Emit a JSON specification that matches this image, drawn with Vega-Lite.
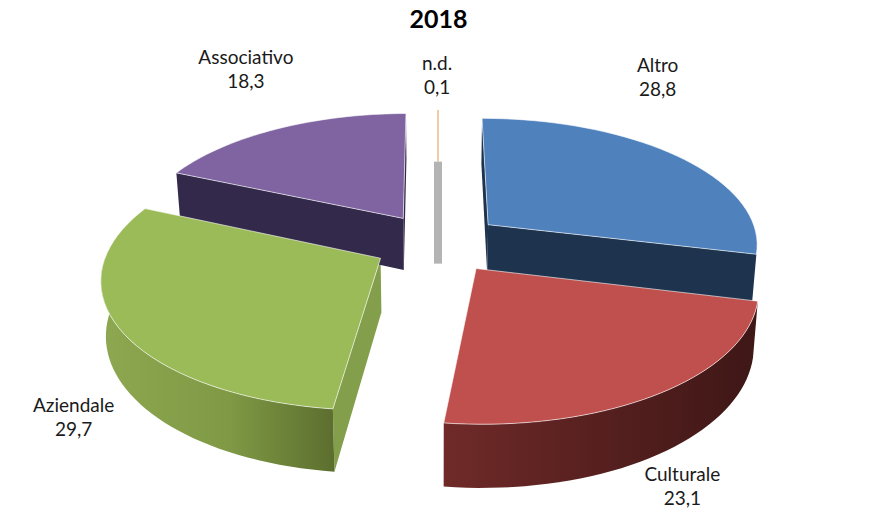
{
"$schema":"https://vega.github.io/schema/vega-lite/v6.json",
"width":877,"height":527,"padding":0,"autosize":"none","background":"white",
"view":{"stroke":null},
"title":{"text":"2018","anchor":"middle","frame":"group","offset":-33,"font":"Lato","fontSize":25,"fontWeight":"bold","color":"#000000"},
"data":{"values":[
{"slice":"Altro","value":28.8},
{"slice":"Culturale","value":23.1},
{"slice":"Aziendale","value":29.7},
{"slice":"Associativo","value":18.3},
{"slice":"n.d.","value":0.1}
]},
"transform":[
{"stack":"value","groupby":[],"as":["v0","v1"]},
{"calculate":"datum.v0/100*2*PI","as":"t0"},
{"calculate":"datum.v1/100*2*PI","as":"t1"},
{"calculate":"(datum.t0+datum.t1)/2","as":"mid"},
{"calculate":"0.24*sin(datum.mid)","as":"ex"},
{"calculate":"0.24*cos(datum.mid)","as":"ey"},
{"calculate":"datum.slice+'\\n'+replace(format(datum.value,'.1f'),'.',',')","as":"lab"}
],
"encoding":{
"x":{"field":"px","type":"quantitative","scale":{"domain":[0,877],"range":[0,877],"nice":false,"zero":false},"axis":null,"title":null},
"y":{"field":"py","type":"quantitative","scale":{"domain":[0,527],"range":[0,527],"nice":false,"zero":false},"axis":null,"title":null}
},
"layer":[
{"transform":[
{"filter":"datum.slice==='n.d.'"},
{"calculate":"[1,0.47]","as":"rs"},{"flatten":["rs"],"as":["r"]},
{"calculate":"datum.ey+datum.r","as":"v"},{"calculate":"1/(1+0.14*datum.v)","as":"s"},
{"calculate":"438","as":"px"},{"calculate":"243-126*datum.v*datum.s","as":"py"}],
"mark":{"type":"line","stroke":"#E39A4F","strokeWidth":1},"encoding":{"order":{"field":"r","sort":"descending"}}},
{"transform":[
{"filter":"datum.slice==='n.d.'"},
{"calculate":"[0.47,-0.4]","as":"rs"},{"flatten":["rs"],"as":["r"]},
{"calculate":"datum.ey+datum.r","as":"v"},{"calculate":"1/(1+0.14*datum.v)","as":"s"},
{"calculate":"438","as":"px"},{"calculate":"243-126*datum.v*datum.s","as":"py"}],
"mark":{"type":"line","stroke":"#B4B4B4","strokeWidth":8},"encoding":{"order":{"field":"r","sort":"descending"}}},
{"transform":[
{"filter":"indexof(['Altro','Associativo','Aziendale'],datum.slice)>=0"},
{"calculate":"[0,1,2,3]","as":"ids"},{"flatten":["ids"],"as":["i"]},
{"calculate":"(datum.i==1||datum.i==2)?1:0","as":"r"},{"calculate":"datum.i>=2?1:0","as":"z"},
{"calculate":"datum.ex+datum.r*sin(datum.t0)","as":"u"},{"calculate":"datum.ey+datum.r*cos(datum.t0)","as":"v"},
{"calculate":"1/(1+0.14*datum.v)","as":"s"},
{"calculate":"438+271*datum.u*datum.s*(1-0.015*datum.z)","as":"px"},
{"calculate":"243-126*datum.v*datum.s+53*datum.s*datum.z","as":"py"}],
"mark":{"type":"line","filled":true,"interpolate":"linear-closed","strokeWidth":0},
"encoding":{"order":{"field":"i"},"color":{"field":"slice","type":"nominal","legend":null,"scale":{"domain":["Altro","Associativo","Aziendale"],"range":["#1D334E","#33294A","#839F4C"]}}}},
{"transform":[
{"filter":"indexof(['Altro','Associativo'],datum.slice)>=0"},
{"calculate":"[0,1,2,3]","as":"ids"},{"flatten":["ids"],"as":["i"]},
{"calculate":"(datum.i==1||datum.i==2)?1:0","as":"r"},{"calculate":"datum.i>=2?1:0","as":"z"},
{"calculate":"datum.ex+datum.r*sin(datum.t1)","as":"u"},{"calculate":"datum.ey+datum.r*cos(datum.t1)","as":"v"},
{"calculate":"1/(1+0.14*datum.v)","as":"s"},
{"calculate":"438+271*datum.u*datum.s*(1-0.015*datum.z)","as":"px"},
{"calculate":"243-126*datum.v*datum.s+53*datum.s*datum.z","as":"py"}],
"mark":{"type":"line","filled":true,"interpolate":"linear-closed","strokeWidth":0},
"encoding":{"order":{"field":"i"},"color":{"field":"slice","type":"nominal","legend":null,"scale":{"domain":["Altro","Associativo"],"range":["#1D334E","#33294A"]}}}},
{"transform":[
{"filter":"datum.slice==='Aziendale'"},
{"calculate":"[0,1,2,3,4,5,6,7,8,9,10,11,12,13,14,15,16,17,18,19,20,21,22,23,24,25,26,27,28,29,30,31,32,33,34,35,36,37,38,39,40,41,42,43,44,45,46,47,48,49,50,51,52,53,54,55,56,57,58,59,60,61,62,63,64,65,66,67,68,69,70,71,72,73,74,75,76,77,78,79,80,81]","as":"ids"},{"flatten":["ids"],"as":["i"]},
{"calculate":"datum.i<=40?datum.i/40:(81-datum.i)/40","as":"f"},{"calculate":"datum.i<=40?0:1","as":"z"},
{"calculate":"max(datum.t0,PI/2)+(min(datum.t1,3*PI/2)-max(datum.t0,PI/2))*datum.f","as":"th"},
{"calculate":"datum.ex+sin(datum.th)","as":"u"},{"calculate":"datum.ey+cos(datum.th)","as":"v"},
{"calculate":"1/(1+0.14*datum.v)","as":"s"},
{"calculate":"438+271*datum.u*datum.s*(1-0.015*datum.z)","as":"px"},
{"calculate":"243-126*datum.v*datum.s+53*datum.s*datum.z","as":"py"}],
"mark":{"type":"line","filled":true,"interpolate":"linear-closed","strokeWidth":0,"fill":{"gradient":"linear","x1":0,"x2":1,"y1":0,"y2":0,"stops":[{"offset":0,"color":"#8DA850"},{"offset":0.55,"color":"#7F9945"},{"offset":1,"color":"#5C6E2E"}]}},
"encoding":{"order":{"field":"i"}}},
{"transform":[
{"filter":"datum.slice==='Culturale'"},
{"calculate":"[0,1,2,3,4,5,6,7,8,9,10,11,12,13,14,15,16,17,18,19,20,21,22,23,24,25,26,27,28,29,30,31,32,33,34,35,36,37,38,39,40,41,42,43,44,45,46,47,48,49,50,51,52,53,54,55,56,57,58,59,60,61,62,63,64,65,66,67,68,69,70,71,72,73,74,75,76,77,78,79,80,81]","as":"ids"},{"flatten":["ids"],"as":["i"]},
{"calculate":"datum.i<=40?datum.i/40:(81-datum.i)/40","as":"f"},{"calculate":"datum.i<=40?0:1","as":"z"},
{"calculate":"max(datum.t0,PI/2)+(min(datum.t1,3*PI/2)-max(datum.t0,PI/2))*datum.f","as":"th"},
{"calculate":"datum.ex+sin(datum.th)","as":"u"},{"calculate":"datum.ey+cos(datum.th)","as":"v"},
{"calculate":"1/(1+0.14*datum.v)","as":"s"},
{"calculate":"438+271*datum.u*datum.s*(1-0.015*datum.z)","as":"px"},
{"calculate":"243-126*datum.v*datum.s+53*datum.s*datum.z","as":"py"}],
"mark":{"type":"line","filled":true,"interpolate":"linear-closed","strokeWidth":0,"fill":{"gradient":"linear","x1":0,"x2":1,"y1":0,"y2":0,"stops":[{"offset":0,"color":"#6F2A28"},{"offset":0.5,"color":"#56201F"},{"offset":1,"color":"#3E1716"}]}},
"encoding":{"order":{"field":"i"}}},
{"transform":[
{"filter":"datum.slice!=='n.d.'"},
{"calculate":"[0,1,2,3,4,5,6,7,8,9,10,11,12,13,14,15,16,17,18,19,20,21,22,23,24,25,26,27,28,29,30,31,32,33,34,35,36,37,38,39,40,41]","as":"ids"},{"flatten":["ids"],"as":["i"]},
{"calculate":"datum.i==0?0:1","as":"r"},
{"calculate":"datum.t0+(datum.t1-datum.t0)*max(datum.i-1,0)/40","as":"th"},
{"calculate":"datum.ex+datum.r*sin(datum.th)","as":"u"},{"calculate":"datum.ey+datum.r*cos(datum.th)","as":"v"},
{"calculate":"1/(1+0.14*datum.v)","as":"s"},
{"calculate":"438+271*datum.u*datum.s","as":"px"},
{"calculate":"243-126*datum.v*datum.s","as":"py"}],
"mark":{"type":"line","filled":true,"interpolate":"linear-closed","stroke":"#ffffff","strokeWidth":1,"strokeOpacity":0.6},
"encoding":{"order":{"field":"i"},"color":{"field":"slice","type":"nominal","legend":null,"scale":{"domain":["Altro","Culturale","Aziendale","Associativo"],"range":["#4F81BD","#C0504D","#9BBB59","#8064A2"]}}}},
{"transform":[
{"filter":"datum.slice==='Altro'"},
{"calculate":"datum.ex+sin(datum.mid)","as":"u"},{"calculate":"datum.ey+cos(datum.mid)","as":"v"},{"calculate":"1/(1+0.14*datum.v)","as":"s"},
{"calculate":"438+271*datum.u*datum.s","as":"px"},{"calculate":"243-126*datum.v*datum.s","as":"py"}],
"mark":{"type":"text","font":"Lato","fontSize":19,"lineHeight":24,"lineBreak":"\n","color":"#1a1a1a","dx":-19,"dy":-90,"align":"center","baseline":"middle"},
"encoding":{"text":{"field":"lab"}}},
{"transform":[
{"filter":"datum.slice==='Culturale'"},
{"calculate":"datum.ex+sin(datum.mid)","as":"u"},{"calculate":"datum.ey+cos(datum.mid)","as":"v"},{"calculate":"1/(1+0.14*datum.v)","as":"s"},
{"calculate":"438+271*datum.u*datum.s","as":"px"},{"calculate":"243-126*datum.v*datum.s","as":"py"}],
"mark":{"type":"text","font":"Lato","fontSize":19,"lineHeight":24,"lineBreak":"\n","color":"#1a1a1a","dx":21,"dy":82,"align":"center","baseline":"middle"},
"encoding":{"text":{"field":"lab"}}},
{"transform":[
{"filter":"datum.slice==='Aziendale'"},
{"calculate":"datum.ex+sin(datum.mid)","as":"u"},{"calculate":"datum.ey+cos(datum.mid)","as":"v"},{"calculate":"1/(1+0.14*datum.v)","as":"s"},
{"calculate":"438+271*datum.u*datum.s","as":"px"},{"calculate":"243-126*datum.v*datum.s","as":"py"}],
"mark":{"type":"text","font":"Lato","fontSize":19,"lineHeight":24,"lineBreak":"\n","color":"#1a1a1a","dx":-45,"dy":78,"align":"center","baseline":"middle"},
"encoding":{"text":{"field":"lab"}}},
{"transform":[
{"filter":"datum.slice==='Associativo'"},
{"calculate":"datum.ex+sin(datum.mid)","as":"u"},{"calculate":"datum.ey+cos(datum.mid)","as":"v"},{"calculate":"1/(1+0.14*datum.v)","as":"s"},
{"calculate":"438+271*datum.u*datum.s","as":"px"},{"calculate":"243-126*datum.v*datum.s","as":"py"}],
"mark":{"type":"text","font":"Lato","fontSize":19,"lineHeight":24,"lineBreak":"\n","color":"#1a1a1a","dx":-31,"dy":-71,"align":"center","baseline":"middle"},
"encoding":{"text":{"field":"lab"}}},
{"transform":[
{"filter":"datum.slice==='n.d.'"},
{"calculate":"datum.ex+sin(datum.mid)","as":"u"},{"calculate":"datum.ey+cos(datum.mid)","as":"v"},{"calculate":"1/(1+0.14*datum.v)","as":"s"},
{"calculate":"438+271*datum.u*datum.s","as":"px"},{"calculate":"243-126*datum.v*datum.s","as":"py"}],
"mark":{"type":"text","font":"Lato","fontSize":19,"lineHeight":24,"lineBreak":"\n","color":"#1a1a1a","dx":0,"dy":-46,"align":"center","baseline":"middle"},
"encoding":{"text":{"field":"lab"}}}
],
"resolve":{"scale":{"color":"independent"}}
}
